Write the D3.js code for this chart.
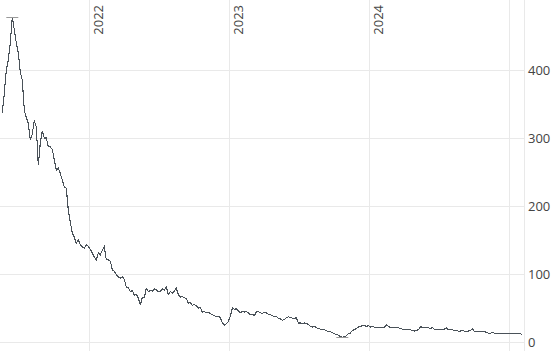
<!DOCTYPE html>
<html>
<head>
<meta charset="utf-8">
<script src="https://cdn.jsdelivr.net/npm/d3@7"></script>
<style>
  body { margin: 0; background: #fff; }
  svg { display: block; }
</style>
</head>
<body>
<script>
// first sample date, then one close roughly every 5 days
var startDate = new Date(2021, 4, 20);
var stepDays = 365 / 70;

var prices = [
  337, 366, 400, 415, 440, 478, 459, 440, 425, 397, 385, 341, 330, 322, 297, 306, 326, 316, 260, 293,
  310, 300, 300, 287, 287, 283, 268, 253, 256, 248, 238, 228, 226, 194, 176, 160, 154, 145, 150, 143,
  140, 138, 143, 141, 136, 131, 125, 121, 131, 128, 135, 140, 121, 121, 119, 106, 104, 99, 96, 94,
  96, 92, 81, 80, 74, 76, 69, 70, 65, 54, 66, 65, 79, 74, 76, 75, 78, 77, 74, 74,
  78, 76, 81, 70, 74, 72, 75, 79, 70, 66, 67, 65, 64, 57, 58, 54, 55, 53, 50, 51,
  44, 45, 43, 44, 42, 40, 39, 37, 38, 36, 28, 25, 27, 30, 38, 50, 48, 49, 46, 43,
  45, 44, 45, 43, 40, 41, 39, 44, 45, 43, 42, 44, 43, 41, 40, 39, 37, 38, 35, 34,
  32, 33, 36, 37, 36, 35, 34, 36, 28, 28, 27, 28, 27, 26, 23, 22, 23, 21, 20, 19,
  19, 18, 17, 15, 15, 14, 12, 11, 10, 8, 7, 8, 9, 12, 13, 17, 18, 20, 22, 23,
  24, 24, 23, 24, 22, 23, 22, 21, 21, 22, 21, 22, 25, 23, 21, 21, 22, 21, 21, 20,
  19, 19, 18, 19, 18, 17, 16, 17, 18, 22, 22, 21, 21, 21, 20, 21, 19, 18, 18, 19,
  18, 19, 21, 18, 18, 18, 17, 17, 16, 16, 17, 16, 16, 16, 17, 19, 16, 15, 15, 15,
  15, 16, 14, 13, 13, 14, 13, 13, 13, 12, 13, 13, 13, 12, 13, 13, 13, 13, 12, 12,
  11
];

var yTicks = [0, 100, 200, 300, 400];
var yearLabels = ["2022", "2023", "2024"];
var gridYears = [2022, 2023, 2024, 2025];

var width = 555, height = 351;
var plotW = 524, plotH = 342;

var data = prices.map(function(p, i) {
  return { date: new Date(startDate.getTime() + i * stepDays * 864e5), close: p };
});

var x = d3.scaleTime()
  .domain([new Date(2021, 4, 14), new Date(2025, 1, 8)])
  .range([0, plotW]);

var y = d3.scaleLinear()
  .domain([0, 503])
  .range([plotH, 0]);

var svg = d3.select("body").append("svg")
  .attr("width", width)
  .attr("height", height);

//grid lines
svg.append("g").selectAll("line.h").data(yTicks).enter().append("line")
  .attr("x1", 0).attr("x2", plotW)
  .attr("y1", function(d) { return Math.round(y(d)) + 0.5; })
  .attr("y2", function(d) { return Math.round(y(d)) + 0.5; })
  .attr("stroke", "#e9e9e9");

svg.append("g").selectAll("line.v").data(gridYears).enter().append("line")
  .attr("x1", function(d) { return Math.round(x(new Date(d, 0, 1))) + 0.5; })
  .attr("x2", function(d) { return Math.round(x(new Date(d, 0, 1))) + 0.5; })
  .attr("y1", 0).attr("y2", height)
  .attr("stroke", "#e9e9e9");

svg.append("line")
  .attr("x1", plotW + 0.5).attr("x2", plotW + 0.5)
  .attr("y1", 0).attr("y2", height)
  .attr("stroke", "#e9e9e9");

//right axis labels
svg.append("g").selectAll("text").data(yTicks).enter().append("text")
  .attr("x", 528)
  .attr("y", function(d) { return y(d); })
  .attr("dy", "0.35em")
  .attr("font-family", "Open Sans, sans-serif")
  .attr("font-size", 13)
  .attr("fill", "#444")
  .text(function(d) { return d; });

//year labels, rotated at the top
svg.append("g").selectAll("text").data(yearLabels).enter().append("text")
  .attr("transform", function(d) {
    return "translate(" + (x(new Date(+d, 0, 1)) + 14) + ",5) rotate(-90)";
  })
  .attr("text-anchor", "end")
  .attr("font-family", "Open Sans, sans-serif")
  .attr("font-size", 13)
  .attr("fill", "#444")
  .text(function(d) { return d; });

//price line
var line = d3.line()
  .x(function(d) { return x(d.date); })
  .y(function(d) { return y(d.close); });

svg.append("path")
  .datum(data)
  .attr("d", line)
  .attr("fill", "none")
  .attr("stroke", "#4a5259")
  .attr("stroke-width", 1.1)
  .attr("shape-rendering", "crispEdges");

//high and low markers
var hi = data.reduce(function(a, b) { return b.close > a.close ? b : a; });
var lo = data.reduce(function(a, b) { return b.close < a.close ? b : a; });
[hi, lo].forEach(function(d) {
  svg.append("line")
    .attr("x1", x(d.date) - 6).attr("x2", x(d.date) + 6)
    .attr("y1", Math.round(y(d.close)) + 0.5)
    .attr("y2", Math.round(y(d.close)) + 0.5)
    .attr("stroke", "#999");
});
</script>
</body>
</html>
